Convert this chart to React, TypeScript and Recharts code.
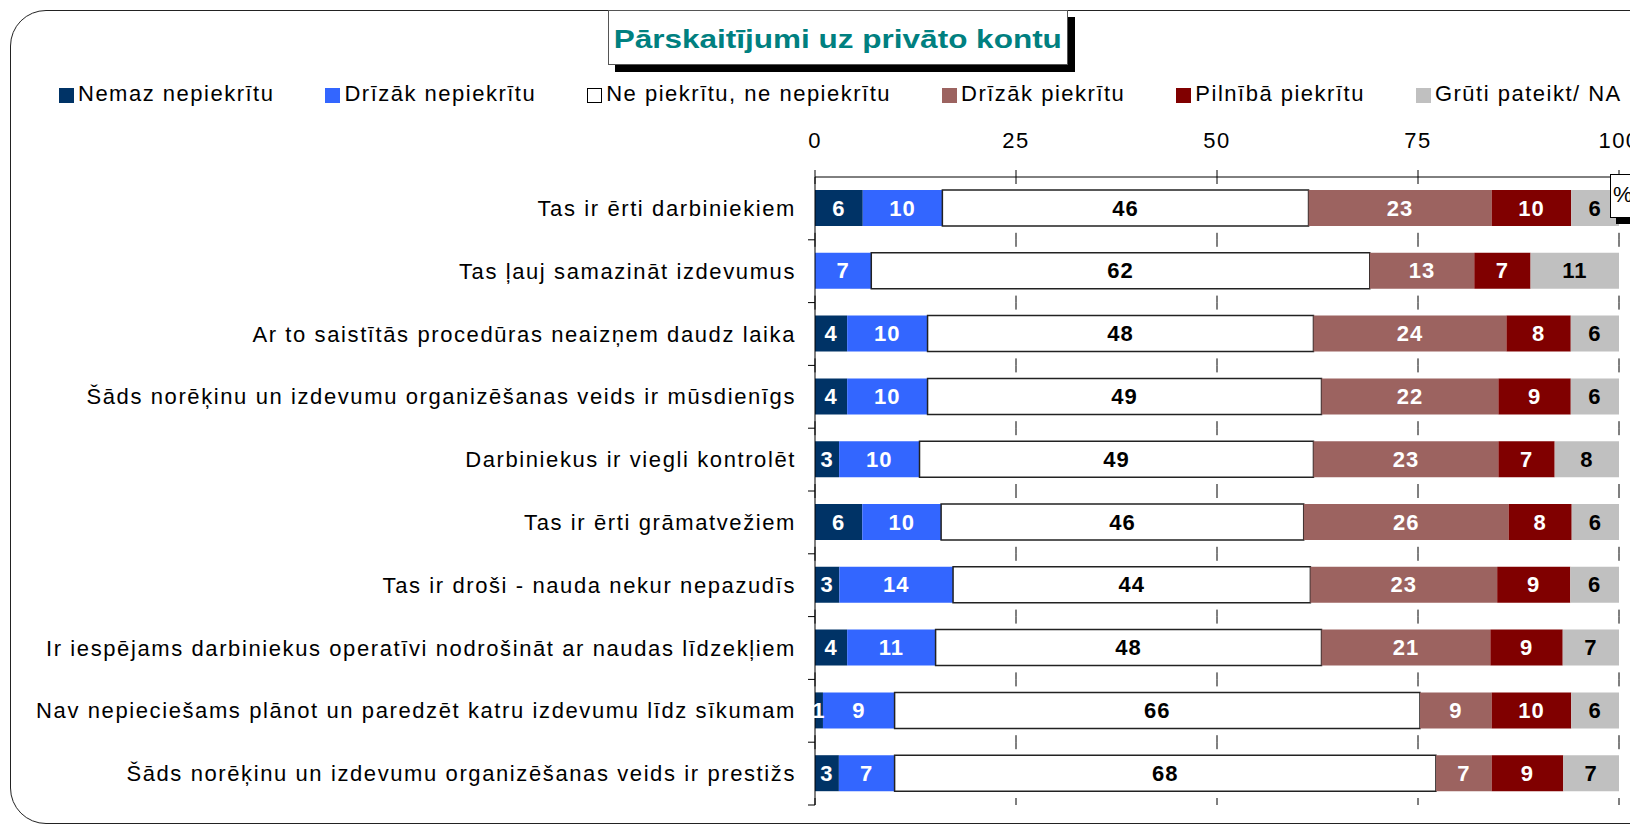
import React from 'react';
import { BarChart, Bar, XAxis, YAxis, CartesianGrid, LabelList } from 'recharts';

const categories = [
  'Tas ir ērti darbiniekiem',
  'Tas ļauj samazināt izdevumus',
  'Ar to saistītās procedūras neaizņem daudz laika',
  'Šāds norēķinu un izdevumu organizēšanas veids ir mūsdienīgs',
  'Darbiniekus ir viegli kontrolēt',
  'Tas ir ērti grāmatvežiem',
  'Tas ir droši - nauda nekur nepazudīs',
  'Ir iespējams darbiniekus operatīvi nodrošināt ar naudas līdzekļiem',
  'Nav nepieciešams plānot un paredzēt katru izdevumu līdz sīkumam',
  'Šāds norēķinu un izdevumu organizēšanas veids ir prestižs',
];

const seriesNames = [
  'Nemaz nepiekrītu',
  'Drīzāk nepiekrītu',
  'Ne piekrītu, ne nepiekrītu',
  'Drīzāk piekrītu',
  'Pilnībā piekrītu',
  'Grūti pateikt/ NA',
];
const seriesKeys = ['s1', 's2', 's3', 's4', 's5', 's6'];
const seriesColors = ['#003366', '#3366FF', '#FFFFFF', '#9C6360', '#800000', '#C0C0C0'];
const labelColors = ['#FFFFFF', '#FFFFFF', '#000000', '#FFFFFF', '#FFFFFF', '#000000'];

const nemazNepiekritu = [6, 0, 4, 4, 3, 6, 3, 4, 1, 3];
const drizakNepiekritu = [10, 7, 10, 10, 10, 10, 14, 11, 9, 7];
const nePiekrituNeNepiekritu = [46, 62, 48, 49, 49, 46, 44, 48, 66, 68];
const drizakPiekritu = [23, 13, 24, 22, 23, 26, 23, 21, 9, 7];
const pilnibaPiekritu = [10, 7, 8, 9, 7, 8, 9, 9, 10, 9];
const grutiPateikt = [6, 11, 6, 6, 8, 6, 6, 7, 6, 7];

const xTickLabels = [0, 25, 50, 75, 100];

const seriesValues = [
  nemazNepiekritu,
  drizakNepiekritu,
  nePiekrituNeNepiekritu,
  drizakPiekritu,
  pilnibaPiekritu,
  grutiPateikt,
];

const data = categories.map((name, i) => {
  const row: any = { name };
  seriesKeys.forEach((k, j) => {
    row[k] = seriesValues[j][i];
  });
  return row;
});

const FONT = '"Liberation Sans", Arial, sans-serif';
const W = 1630;
const H = 825;
const M_TOP = 137;
const X_AXIS_H = 40;
const M_BOTTOM = 20;
const M_RIGHT = 11;
const PLOT_LEFT = 815;
const PLOT_TOP = M_TOP + X_AXIS_H;
const BAND = (H - PLOT_TOP - M_BOTTOM) / categories.length;

const YTick = (props: any) => {
  const { y, payload } = props;
  return (
    <g>
      <text
        x={PLOT_LEFT - 19}
        y={y}
        textAnchor="end"
        dominantBaseline="central"
        fontSize={22}
        fontFamily={FONT}
        letterSpacing={1.6}
        fill="#000"
      >
        {payload.value}
      </text>
      <line x1={PLOT_LEFT - 7} x2={PLOT_LEFT} y1={y + BAND / 2} y2={y + BAND / 2} stroke="#000" strokeWidth={1} />
    </g>
  );
};

const makeLabel = (key: string, color: string) => (props: any) => {
  const vb = props.viewBox || props;
  const x = vb.x ?? props.x;
  const y = vb.y ?? props.y;
  const width = vb.width ?? props.width;
  const height = vb.height ?? props.height;
  const cy = y + height / 2;
  const rowIdx = Math.floor((cy - PLOT_TOP) / BAND);
  const row = data[rowIdx];
  const v = row ? row[key] : undefined;
  if (!v || !width) return null;
  return (
    <text
      x={x + width / 2}
      y={cy}
      textAnchor="middle"
      dominantBaseline="central"
      fill={color}
      fontSize={22}
      fontWeight="bold"
      fontFamily={FONT}
      letterSpacing={1}
    >
      {v}
    </text>
  );
};

export default function App() {
  return (
    <div
      style={{
        position: 'absolute',
        left: 0,
        top: 0,
        width: W,
        height: H,
        overflow: 'hidden',
        background: '#fff',
        fontFamily: FONT,
      }}
    >
      <div
        style={{
          position: 'absolute',
          left: 10,
          top: 10,
          width: 1700,
          height: 814,
          boxSizing: 'border-box',
          border: '1.5px solid #222',
          borderRadius: 36,
        }}
      />
      <div style={{ position: 'absolute', left: 0, top: 0 }}>
        <BarChart
          layout="vertical"
          width={W}
          height={H}
          data={data}
          stackOffset="expand"
          barSize={36}
          margin={{ top: M_TOP, right: M_RIGHT, bottom: M_BOTTOM, left: 0 }}
        >
          <CartesianGrid horizontal={false} vertical stroke="#000" strokeDasharray={`7 ${BAND - 14} 7 0`} />
          <XAxis
            type="number"
            orientation="top"
            domain={[0, 1]}
            ticks={xTickLabels.map((t) => t / 100)}
            tickFormatter={(v: number) => String(Math.round(v * 100))}
            height={X_AXIS_H}
            tickSize={7}
            tickMargin={22}
            axisLine={{ stroke: '#000' }}
            tickLine={{ stroke: '#000' }}
            tick={{ fontSize: 22, fontFamily: FONT, fill: '#000', letterSpacing: 1.5 }}
            interval={0}
            allowDataOverflow
          />
          <XAxis
            xAxisId="b"
            type="number"
            orientation="bottom"
            domain={[0, 1]}
            height={0}
            tick={false}
            tickLine={false}
            axisLine={{ stroke: '#808080', strokeWidth: 1.5 }}
          />
          <YAxis
            type="category"
            dataKey="name"
            width={PLOT_LEFT}
            tick={<YTick />}
            tickLine={false}
            axisLine={{ stroke: '#000' }}
            interval={0}
          />
          <YAxis
            yAxisId="r"
            type="category"
            dataKey="name"
            orientation="right"
            width={0}
            tick={false}
            tickLine={false}
            axisLine={{ stroke: '#808080', strokeWidth: 1.5 }}
          />
          {seriesKeys.map((k, j) => (
            <Bar
              key={k}
              dataKey={k}
              name={seriesNames[j]}
              stackId="a"
              fill={seriesColors[j]}
              stroke={j === 2 ? '#222' : undefined}
              strokeWidth={j === 2 ? 1.5 : 0}
              isAnimationActive={false}
            >
              <LabelList dataKey={k} content={makeLabel(k, labelColors[j])} />
            </Bar>
          ))}
        </BarChart>
      </div>

      {/* Legend */}
      <div
        style={{
          position: 'absolute',
          left: 59,
          top: 83,
          display: 'flex',
          gap: 51,
          whiteSpace: 'nowrap',
        }}
      >
        {seriesNames.map((n, j) => (
          <div key={n} style={{ display: 'flex', alignItems: 'flex-start' }}>
            <div
              style={{
                width: 15,
                height: 15,
                marginTop: 5,
                marginRight: 4,
                boxSizing: 'border-box',
                background: seriesColors[j],
                border: j === 2 ? '1px solid #000' : 'none',
              }}
            />
            <span style={{ fontSize: 22, lineHeight: '22px', letterSpacing: 1.5, color: '#000' }}>{n}</span>
          </div>
        ))}
      </div>

      {/* Title */}
      <div
        style={{
          position: 'absolute',
          left: 608,
          top: 10,
          width: 460,
          height: 55,
          boxSizing: 'border-box',
          border: '1px solid #555',
          background: '#fff',
          boxShadow: '7px 7px 0 #000',
          display: 'flex',
          alignItems: 'center',
          justifyContent: 'center',
          paddingTop: 4,
        }}
      >
        <span
          style={{
            display: 'inline-block',
            fontSize: 25,
            fontWeight: 'bold',
            color: '#008080',
            transform: 'scaleX(1.26)',
            transformOrigin: 'center',
            whiteSpace: 'nowrap',
          }}
        >
          Pārskaitījumi uz privāto kontu
        </span>
      </div>

      {/* % box */}
      <div
        style={{
          position: 'absolute',
          left: 1610,
          top: 174,
          width: 40,
          height: 44,
          boxSizing: 'border-box',
          border: '1px solid #000',
          background: '#fff',
          boxShadow: '6px 6px 0 #000',
          fontSize: 22,
          lineHeight: '40px',
          paddingLeft: 2,
        }}
      >
        %
      </div>
    </div>
  );
}
